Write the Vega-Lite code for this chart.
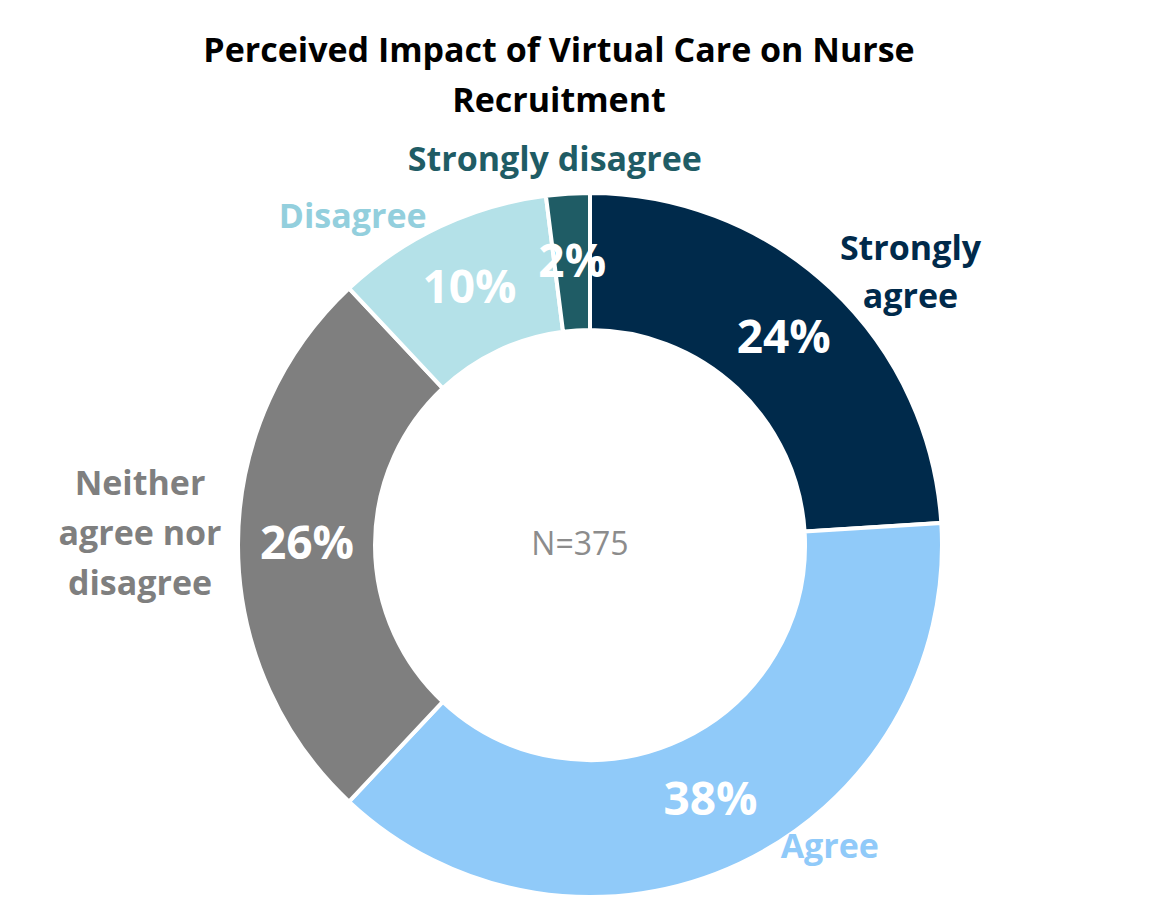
{
  "$schema": "https://vega.github.io/schema/vega-lite/v6.json",
  "width": 1126,
  "height": 742,
  "autosize": {"type": "none"},
  "padding": {"left": 27, "top": 174, "right": 0, "bottom": 0},
  "background": "white",
  "config": {"view": {"stroke": null}, "font": "Open Sans"},
  "title": {
    "text": ["Perceived Impact of Virtual Care on Nurse", "Recruitment"],
    "font": "Open Sans",
    "fontSize": 34,
    "fontWeight": "bold",
    "color": "#000000",
    "anchor": "middle",
    "dx": -31,
    "lineHeight": 50,
    "offset": -100
  },
  "data": {
    "values": [
      {"idx": 1, "category": "Strongly agree", "label": "Strongly\nagree", "pct": 24, "pctLabel": "24%"},
      {"idx": 2, "category": "Agree", "label": "Agree", "pct": 38, "pctLabel": "38%"},
      {"idx": 3, "category": "Neither agree nor disagree", "label": "Neither\nagree nor\ndisagree", "pct": 26, "pctLabel": "26%"},
      {"idx": 4, "category": "Disagree", "label": "Disagree", "pct": 10, "pctLabel": "10%"},
      {"idx": 5, "category": "Strongly disagree", "label": "Strongly disagree", "pct": 2, "pctLabel": "2%"}
    ]
  },
  "layer": [
    {
      "mark": {"type": "arc", "innerRadius": 215, "outerRadius": 352, "stroke": "white", "strokeWidth": 4},
      "encoding": {
        "theta": {"field": "pct", "type": "quantitative", "stack": true},
        "order": {"field": "idx", "type": "quantitative"},
        "color": {
          "field": "category", "type": "nominal", "legend": null,
          "scale": {
            "domain": ["Strongly agree", "Agree", "Neither agree nor disagree", "Disagree", "Strongly disagree"],
            "range": ["#002A4B", "#90CAF9", "#7F7F7F", "#B4E1E8", "#1F5C65"]
          }
        }
      }
    },
    {
      "mark": {"type": "text", "radius": 283, "fill": "white", "fontSize": 46, "fontWeight": "bold", "font": "Open Sans"},
      "encoding": {
        "theta": {"field": "pct", "type": "quantitative", "stack": true},
        "order": {"field": "idx", "type": "quantitative"},
        "text": {"field": "pctLabel"}
      }
    },
    {
      "mark": {"type": "text", "radius": 420, "dx": 33, "dy": 11, "fontSize": 34, "fontWeight": "bold", "font": "Open Sans", "lineBreak": "\n", "lineHeight": 48},
      "encoding": {
        "theta": {"field": "pct", "type": "quantitative", "stack": true},
        "order": {"field": "idx", "type": "quantitative"},
        "color": {"field": "category", "type": "nominal", "legend": null},
        "text": {"condition": {"test": "datum.category === 'Strongly agree'", "field": "label"}, "value": ""}
      }
    },
    {
      "mark": {"type": "text", "radius": 380, "dx": 78, "dy": -41, "fontSize": 34, "fontWeight": "bold", "font": "Open Sans", "lineBreak": "\n", "lineHeight": 48},
      "encoding": {
        "theta": {"field": "pct", "type": "quantitative", "stack": true},
        "order": {"field": "idx", "type": "quantitative"},
        "color": {"field": "category", "type": "nominal", "legend": null},
        "text": {"condition": {"test": "datum.category === 'Agree'", "field": "label"}, "value": ""}
      }
    },
    {
      "mark": {"type": "text", "radius": 450, "dx": 0, "dy": -60, "fontSize": 34, "fontWeight": "bold", "font": "Open Sans", "lineBreak": "\n", "lineHeight": 50},
      "encoding": {
        "theta": {"field": "pct", "type": "quantitative", "stack": true},
        "order": {"field": "idx", "type": "quantitative"},
        "color": {"field": "category", "type": "nominal", "legend": null},
        "text": {"condition": {"test": "datum.category === 'Neither agree nor disagree'", "field": "label"}, "value": ""}
      }
    },
    {
      "mark": {"type": "text", "radius": 400, "dx": -67, "dy": 35, "fontSize": 34, "fontWeight": "bold", "font": "Open Sans", "fill": "#93CFDD"},
      "encoding": {
        "theta": {"field": "pct", "type": "quantitative", "stack": true},
        "order": {"field": "idx", "type": "quantitative"},
        "text": {"condition": {"test": "datum.category === 'Disagree'", "field": "label"}, "value": ""}
      }
    },
    {
      "mark": {"type": "text", "radius": 385, "dx": -11, "dy": 0, "fontSize": 34, "fontWeight": "bold", "font": "Open Sans", "lineBreak": "\n", "lineHeight": 48},
      "encoding": {
        "theta": {"field": "pct", "type": "quantitative", "stack": true},
        "order": {"field": "idx", "type": "quantitative"},
        "color": {"field": "category", "type": "nominal", "legend": null},
        "text": {"condition": {"test": "datum.category === 'Strongly disagree'", "field": "label"}, "value": ""}
      }
    },
    {
      "data": {"values": [{"note": "N=375"}]},
      "mark": {"type": "text", "fontSize": 32, "fill": "#8C8C8C", "font": "Open Sans", "dx": -10},
      "encoding": {"text": {"field": "note"}}
    }
  ]
}
